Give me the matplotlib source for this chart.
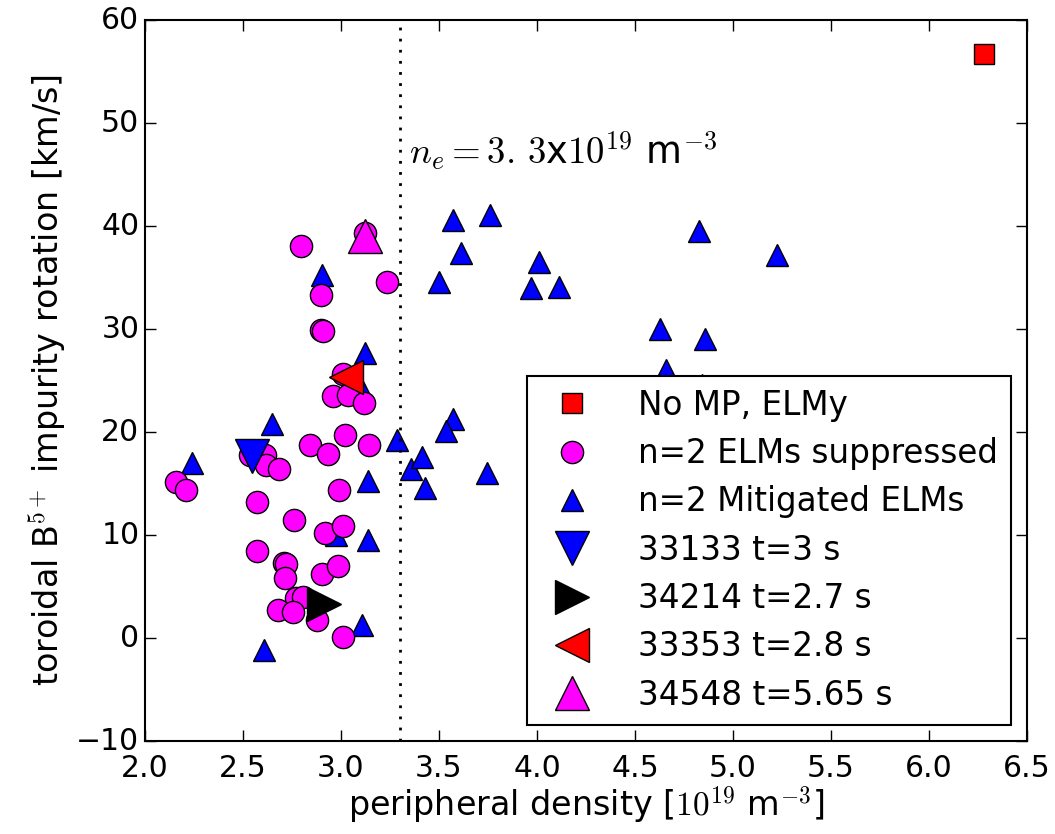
import matplotlib
matplotlib.use("Agg")
import matplotlib.pyplot as plt

plt.style.use("classic")
plt.rcParams["mathtext.fontset"] = "cm"

# No MP, ELMy
nomp_ne = [6.28]
nomp_v = [56.7]

# n=2 ELMs suppressed
supp_ne = [2.796, 3.124, 2.898, 3.236, 2.898, 2.906, 3.01, 2.957, 3.037, 3.117,
           3.02, 2.842, 2.935, 3.141, 2.536, 2.612, 2.617, 2.685, 2.158, 2.209,
           2.99, 2.57, 2.759, 2.918, 3.009, 2.57, 2.711, 2.718, 2.714, 2.901,
           2.986, 2.769, 2.808, 2.68, 2.757, 2.876, 3.012]
supp_v = [38.1, 39.3, 33.3, 34.6, 29.9, 29.8, 25.6, 23.5, 23.6, 22.8,
          19.7, 18.7, 17.9, 18.7, 17.8, 17.8, 16.8, 16.4, 15.1, 14.4,
          14.4, 13.2, 11.5, 10.2, 10.9, 8.4, 7.25, 7.2, 5.8, 6.2,
          7.0, 3.9, 4.0, 2.7, 2.55, 1.75, 0.13]

# n=2 mitigated ELMs
mitig_ne = [2.901, 3.122, 3.11, 2.65, 3.284, 2.241, 3.355, 3.411, 3.139, 2.973,
            3.136, 3.105, 2.607, 3.573, 3.76, 3.612, 3.502, 4.012, 3.969, 4.112,
            4.826, 5.226, 4.628, 4.855, 4.657, 4.84, 3.573, 3.536, 3.743, 3.43]
mitig_v = [35.2, 27.7, 23.9, 20.8, 19.2, 17.0, 16.4, 17.6, 15.2, 10.0,
           9.5, 1.3, -1.2, 40.6, 41.1, 37.4, 34.6, 36.5, 33.95, 34.05,
           39.5, 37.2, 30.0, 29.0, 26.0, 24.6, 21.3, 20.1, 16.0, 14.6]

# single shots
shot_labels = ["33133 t=3 s", "34214 t=2.7 s", "33353 t=2.8 s", "34548 t=5.65 s"]
shot_ne = [2.544, 2.913, 3.024, 3.124]
shot_v = [17.7, 3.3, 25.3, 39.06]
shot_markers = ["v", ">", "<", "^"]
shot_colors = ["#0000ff", "k", "#ff0000", "#ff00ff"]

ne_limit = 3.3

fig = plt.figure(figsize=(10.55, 8.34), dpi=100, facecolor="w")
ax = fig.add_axes([0.1374, 0.1115, 0.836, 0.8645])
for sp in ax.spines.values():
    sp.set_linewidth(1.5)

h_nomp, = ax.plot(nomp_ne, nomp_v, ls="None", marker="s", ms=15, mfc="#ff0000",
                  mec="k", mew=1, label="No MP, ELMy")
h_mit, = ax.plot(mitig_ne, mitig_v, ls="None", marker="^", ms=16, mfc="#0000ff",
                 mec="k", mew=1, label="n=2 Mitigated ELMs")
h_sup, = ax.plot(supp_ne, supp_v, ls="None", marker="o", ms=16, mfc="#ff00ff",
                 mec="k", mew=1, label="n=2 ELMs suppressed")
handles = [h_nomp, h_sup, h_mit]
for ne, v, m, c, lab in zip(shot_ne, shot_v, shot_markers, shot_colors, shot_labels):
    h, = ax.plot([ne], [v], ls="None", marker=m, ms=24, mfc=c, mec="k", mew=1, label=lab)
    handles.append(h)

ax.axvline(ne_limit, color="k", ls=(0, (2, 6)), lw=2)
ax.text(3.345, 46.0, r"$n_e=3.\,3$x$10^{19}$ m$^{-3}$", fontsize=26.5)

ax.set_xlim(2.0, 6.5)
ax.set_ylim(-10, 60)
ax.set_xticks([2.0, 2.5, 3.0, 3.5, 4.0, 4.5, 5.0, 5.5, 6.0, 6.5])
ax.tick_params(labelsize=21.5, length=8, width=1, direction="in")
ax.tick_params(axis="x", pad=9)
ax.set_xlabel(r"peripheral density [$10^{19}$ m$^{-3}$]", fontsize=24, labelpad=1)
ax.set_ylabel(r"toroidal B$^{5+}$ impurity rotation [km/s]", fontsize=24)

leg = ax.legend(handles=handles, loc="lower right", numpoints=1, fontsize=23.5,
                borderaxespad=0.5, labelspacing=0.47, handletextpad=1.0)
leg.get_frame().set_linewidth(1.5)

fig.savefig("out.png", dpi=100, facecolor="w")
